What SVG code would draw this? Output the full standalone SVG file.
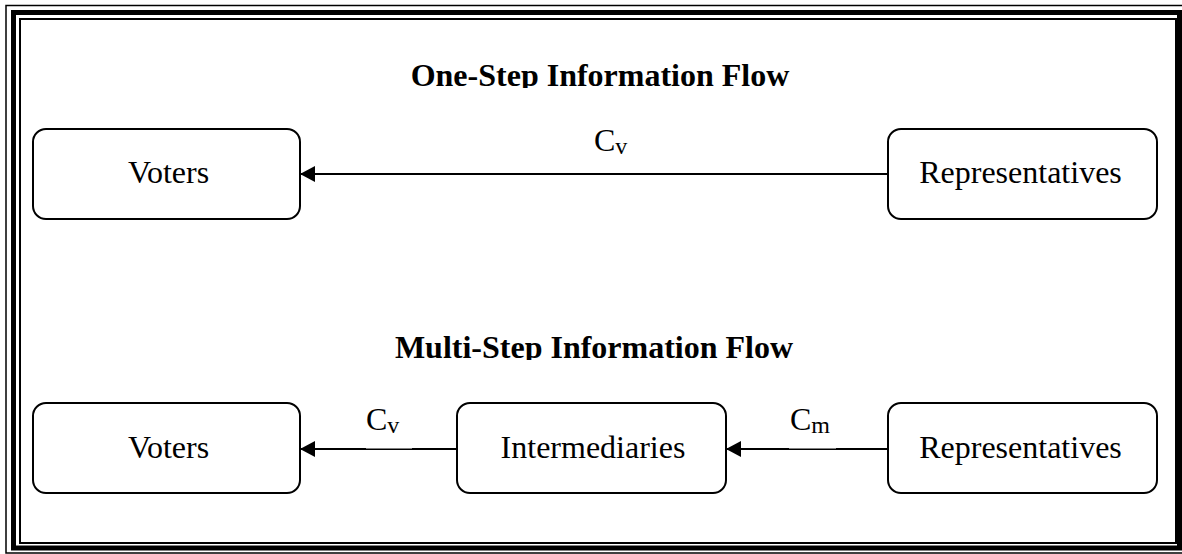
<svg xmlns="http://www.w3.org/2000/svg" width="1182" height="554" viewBox="0 0 1182 554">
  <style>
    .frame { fill: none; stroke: #000; }
    .node rect { fill: #fff; stroke: #000; stroke-width: 2; }
    .label { font-family: "Liberation Serif", "Times New Roman", serif; font-size: 32px; fill: #000; text-anchor: middle; }
    .title { font-family: "Liberation Serif", "Times New Roman", serif; font-size: 32px; font-weight: bold; fill: #000; text-anchor: middle; }
    .edge-label { font-family: "Liberation Serif", "Times New Roman", serif; font-size: 32px; fill: #000; }
    .sub { font-size: 24px; }
    .edge { stroke: #000; stroke-width: 2; fill: none; marker-end: url(#arrow); }
  </style>
  <defs>
    <marker id="arrow" viewBox="0 0 15 16" refX="15" refY="8" markerWidth="15" markerHeight="16" markerUnits="userSpaceOnUse" orient="auto">
      <path d="M0,0 L15,8 L0,16 Z" fill="#000"/>
    </marker>
    <clipPath id="clipTop"><rect x="0" y="0" width="1182" height="88"/></clipPath>
    <clipPath id="clipBottom"><rect x="0" y="300" width="1182" height="60"/></clipPath>
  </defs>

  <rect width="1182" height="554" fill="#fff"/>

  <!-- triple page border -->
  <g id="border">
    <rect class="frame" x="6" y="5.5" width="1182" height="547.5" stroke-width="1.5"/>
    <rect class="frame" x="13.5" y="12.5" width="1166" height="535.5" stroke-width="5"/>
    <rect class="frame" x="20" y="19" width="1156" height="524" stroke-width="2"/>
  </g>

  <!-- section headings -->
  <text class="title" x="600" y="86" clip-path="url(#clipTop)">One-Step Information Flow</text>
  <text class="title" x="594" y="358" clip-path="url(#clipBottom)">Multi-Step Information Flow</text>

  <!-- connectors -->
  <g id="connectors">
    <line class="edge" x1="888" y1="174" x2="300" y2="174"/>
    <line class="edge" x1="457" y1="449" x2="300" y2="449"/>
    <line class="edge" x1="888" y1="449" x2="726" y2="449"/>
    <!-- label backgrounds trimming the line under the subscripts -->
    <rect x="366" y="447.5" width="46" height="1" fill="#fff"/>
    <rect x="789" y="447.5" width="47" height="1" fill="#fff"/>
    <text class="edge-label" x="594" y="151">C<tspan class="sub" dy="3">v</tspan></text>
    <text class="edge-label" x="366" y="429.5">C<tspan class="sub" dy="3">v</tspan></text>
    <text class="edge-label" x="790" y="430">C<tspan class="sub" dy="3">m</tspan></text>
  </g>

  <!-- one-step nodes -->
  <g id="voters-1" class="node">
    <rect x="33" y="129" width="267" height="90" rx="13"/>
    <text class="label" x="168.5" y="183">Voters</text>
  </g>
  <g id="representatives-1" class="node">
    <rect x="888" y="129" width="269" height="90" rx="13"/>
    <text class="label" x="1020.5" y="183">Representatives</text>
  </g>

  <!-- multi-step nodes -->
  <g id="voters-2" class="node">
    <rect x="33" y="403" width="267" height="90" rx="13"/>
    <text class="label" x="168.5" y="458">Voters</text>
  </g>
  <g id="intermediaries" class="node">
    <rect x="457" y="403" width="269" height="90" rx="13"/>
    <text class="label" x="593" y="458">Intermediaries</text>
  </g>
  <g id="representatives-2" class="node">
    <rect x="888" y="403" width="269" height="90" rx="13"/>
    <text class="label" x="1020.5" y="458">Representatives</text>
  </g>
</svg>
